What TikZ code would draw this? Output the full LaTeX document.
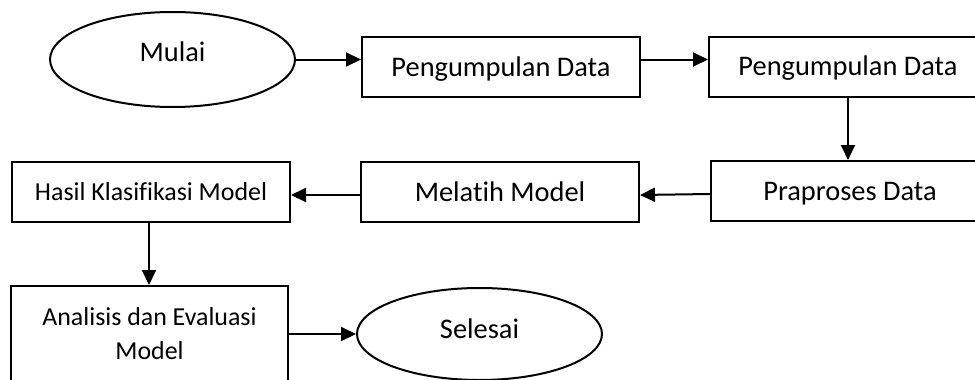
\documentclass[tikz,border=0pt]{standalone}
\usepackage{fontspec}
\setmainfont{Carlito}[Ligatures=NoCommon]
\usetikzlibrary{shapes.geometric,arrows.meta}
\tikzset{
  boxnode/.style={draw,line width=2pt,rectangle,minimum width=278pt,minimum height=60pt,inner sep=0pt,font=\fontsize{28.4}{34}\selectfont,text height=18.3pt,text depth=0pt},
  smallbox/.style={draw,line width=2pt,rectangle,minimum width=278pt,minimum height=60pt,inner sep=0pt,font=\fontsize{25.9}{34}\selectfont,align=center},
  ovalnode/.style={draw,line width=2pt,ellipse,minimum width=245pt,minimum height=95pt,inner sep=0pt},
  ovaltext/.style={font=\fontsize{28.4}{34}\selectfont,inner sep=0pt,text height=18.3pt,text depth=0pt},
  flow/.style={line width=2pt,-{Triangle[length=15pt,width=14pt]}}
}
\begin{document}
\begin{tikzpicture}[x=1pt,y=-1pt]
\useasboundingbox (0,0) rectangle (975,380);
\clip (0,0) rectangle (975,380);
\node[ovalnode] (mulai) at (172.5,59.5) {};
\node[ovaltext] (mulaitext) at (172.5,52.5) {Mulai};
\node[boxnode] (p1) at (501,67) {Pengumpulan Data};
\node[boxnode] (p2) at (848,66.5) {Pengumpulan Data};
\node[boxnode] (p3) at (850,191) {Praproses Data};
\node[boxnode] (p4) at (500,192) {Melatih Model};
\node[smallbox,text height=16.7pt,text depth=0pt] (p5) at (151,192) {Hasil Klasifikasi Model};
\node[smallbox,minimum width=277pt,minimum height=96pt] (p6) at (149.5,334) {Analisis dan Evaluasi\\Model};
\node[ovalnode,minimum height=92pt] (selesai) at (479.5,334) {};
\node[ovaltext] (selesaitext) at (479.5,329) {Selesai};
\draw[flow] (mulai.east) -- (mulai.east -| p1.west);
\draw[flow] (p1.east |- mulai.east) -- (p2.west |- mulai.east);
\draw[flow] (p2.south) -- (p3.north -| p2.south);
\draw[flow] ([yshift=-3pt]p3.west) -- ([yshift=-3pt]p4.east);
\draw[flow] ([yshift=-3pt]p4.west) -- ([yshift=-3pt]p5.east);
\draw[flow] ([xshift=-2pt]p5.south) -- ([xshift=-2pt]p5.south |- p6.north);
\draw[flow] (p6.east) -- (selesai.west);
\end{tikzpicture}
\end{document}
